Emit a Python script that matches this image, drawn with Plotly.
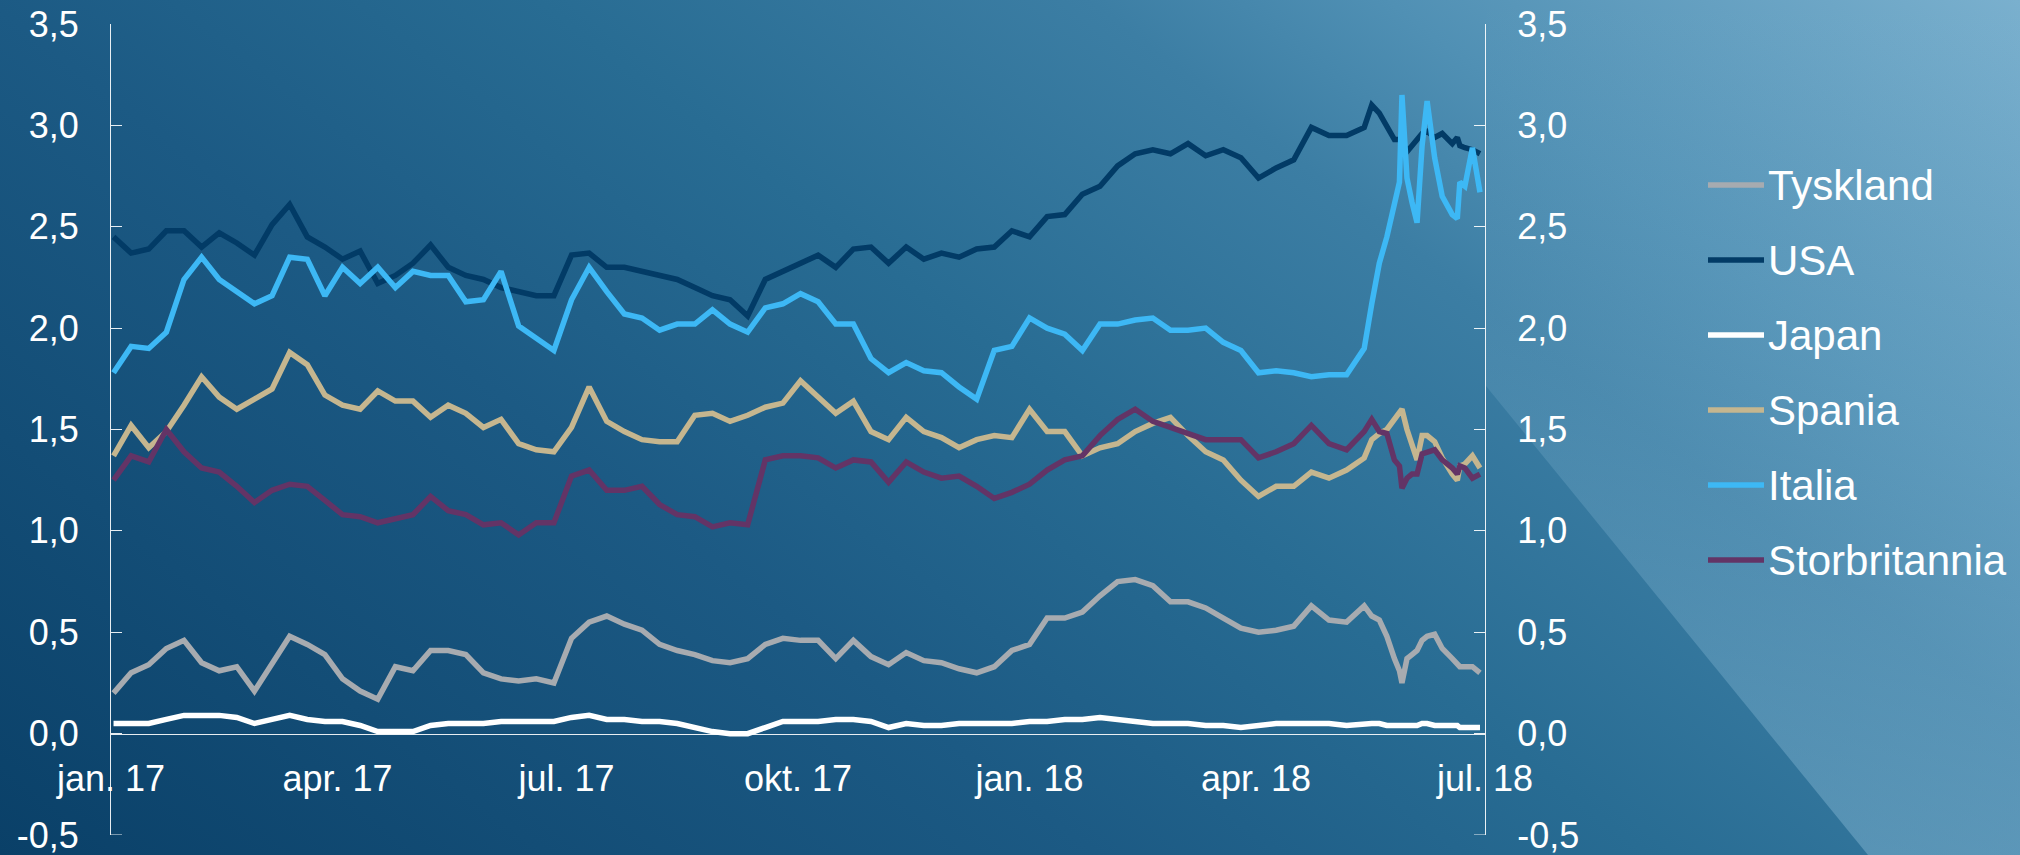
import base64
import pandas as pd
import plotly.graph_objects as go

# ---------------- data ----------------
weekly_dates = list(pd.date_range("2017-01-02", "2018-05-14", freq="7D").strftime("%Y-%m-%d"))
tail_dates = ["2018-05-17", "2018-05-20", "2018-05-23", "2018-05-26", "2018-05-28", "2018-05-29",
              "2018-05-31", "2018-06-02", "2018-06-04", "2018-06-06", "2018-06-08", "2018-06-11",
              "2018-06-14", "2018-06-18", "2018-06-20", "2018-06-21", "2018-06-23", "2018-06-26",
              "2018-06-29"]
dates = weekly_dates + tail_dates

tyskland = [0.20, 0.30, 0.34, 0.42, 0.46, 0.35, 0.31, 0.33, 0.21, 0.35, 0.48, 0.44, 0.39, 0.27, 0.21, 0.17,
            0.33, 0.31, 0.41, 0.41, 0.39, 0.30, 0.27, 0.26, 0.27, 0.25, 0.47, 0.55, 0.58, 0.54, 0.51, 0.44,
            0.41, 0.39, 0.36, 0.35, 0.37, 0.44, 0.47, 0.46, 0.46, 0.37, 0.46, 0.38, 0.34, 0.40, 0.36, 0.35,
            0.32, 0.30, 0.33, 0.41, 0.44, 0.57, 0.57, 0.60, 0.68, 0.75, 0.76, 0.73, 0.65, 0.65, 0.62, 0.57,
            0.52, 0.50, 0.51, 0.53, 0.63, 0.56, 0.55, 0.63,
            0.58, 0.56, 0.48, 0.37, 0.31, 0.25, 0.37, 0.39, 0.41, 0.46, 0.48, 0.49, 0.42, 0.37, 0.34, 0.33,
            0.33, 0.33, 0.30]
usa = [2.45, 2.37, 2.39, 2.48, 2.48, 2.40, 2.47, 2.42, 2.36, 2.51, 2.61, 2.45, 2.40, 2.34, 2.38, 2.22,
       2.26, 2.32, 2.41, 2.30, 2.26, 2.24, 2.20, 2.18, 2.16, 2.16, 2.36, 2.37, 2.30, 2.30, 2.28, 2.26,
       2.24, 2.20, 2.16, 2.14, 2.06, 2.24, 2.28, 2.32, 2.36, 2.30, 2.39, 2.40, 2.32, 2.40, 2.34, 2.37,
       2.35, 2.39, 2.40, 2.48, 2.45, 2.55, 2.56, 2.66, 2.70, 2.80, 2.86, 2.88, 2.86, 2.91, 2.85, 2.88,
       2.84, 2.74, 2.79, 2.83, 2.99, 2.95, 2.95, 2.99,
       3.10, 3.06, 3.00, 2.93, 2.93, 2.92, 2.87, 2.90, 2.93, 2.96, 2.97, 2.94, 2.96, 2.91, 2.94, 2.90,
       2.89, 2.88, 2.86]
japan = [0.05, 0.05, 0.05, 0.07, 0.09, 0.09, 0.09, 0.08, 0.05, 0.07, 0.09, 0.07, 0.06, 0.06, 0.04, 0.01,
         0.01, 0.01, 0.04, 0.05, 0.05, 0.05, 0.06, 0.06, 0.06, 0.06, 0.08, 0.09, 0.07, 0.07, 0.06, 0.06,
         0.05, 0.03, 0.01, 0.00, 0.00, 0.03, 0.06, 0.06, 0.06, 0.07, 0.07, 0.06, 0.03, 0.05, 0.04, 0.04,
         0.05, 0.05, 0.05, 0.05, 0.06, 0.06, 0.07, 0.07, 0.08, 0.07, 0.06, 0.05, 0.05, 0.05, 0.04, 0.04,
         0.03, 0.04, 0.05, 0.05, 0.05, 0.05, 0.04, 0.05,
         0.05, 0.05, 0.04, 0.04, 0.04, 0.04, 0.04, 0.04, 0.04, 0.05, 0.05, 0.04, 0.04, 0.04, 0.04, 0.03,
         0.03, 0.03, 0.03]
spania = [1.37, 1.52, 1.41, 1.49, 1.62, 1.76, 1.66, 1.60, 1.65, 1.70, 1.88, 1.82, 1.67, 1.62, 1.60, 1.69,
          1.64, 1.64, 1.56, 1.62, 1.58, 1.51, 1.55, 1.43, 1.40, 1.39, 1.51, 1.71, 1.54, 1.49, 1.45, 1.44,
          1.44, 1.57, 1.58, 1.54, 1.57, 1.61, 1.63, 1.74, 1.66, 1.58, 1.64, 1.49, 1.45, 1.56, 1.49, 1.46,
          1.41, 1.45, 1.47, 1.46, 1.60, 1.49, 1.49, 1.37, 1.41, 1.43, 1.49, 1.53, 1.56, 1.47, 1.39, 1.35,
          1.25, 1.17, 1.22, 1.22, 1.29, 1.26, 1.30, 1.36,
          1.45, 1.48, 1.50, 1.55, 1.58, 1.60, 1.50, 1.42, 1.35, 1.47, 1.47, 1.44, 1.36, 1.28, 1.25, 1.32,
          1.33, 1.37, 1.31]
italia = [1.78, 1.91, 1.90, 1.98, 2.24, 2.35, 2.24, 2.18, 2.12, 2.16, 2.35, 2.34, 2.16, 2.30, 2.22, 2.30,
          2.20, 2.28, 2.26, 2.26, 2.13, 2.14, 2.28, 2.01, 1.95, 1.89, 2.14, 2.30, 2.18, 2.07, 2.05, 1.99,
          2.02, 2.02, 2.09, 2.02, 1.98, 2.10, 2.12, 2.17, 2.13, 2.02, 2.02, 1.85, 1.78, 1.83, 1.79, 1.78,
          1.71, 1.65, 1.89, 1.91, 2.05, 2.00, 1.97, 1.89, 2.02, 2.02, 2.04, 2.05, 1.99, 1.99, 2.00, 1.93,
          1.89, 1.78, 1.79, 1.78, 1.76, 1.77, 1.77, 1.90,
          2.12, 2.32, 2.45, 2.62, 2.72, 3.15, 2.74, 2.62, 2.52, 2.90, 3.12, 2.84, 2.65, 2.56, 2.54, 2.72,
          2.70, 2.89, 2.67]
storbritannia = [1.25, 1.37, 1.34, 1.50, 1.39, 1.31, 1.29, 1.22, 1.14, 1.20, 1.23, 1.22, 1.15, 1.08, 1.07, 1.04,
                 1.06, 1.08, 1.17, 1.10, 1.08, 1.03, 1.04, 0.98, 1.04, 1.04, 1.27, 1.30, 1.20, 1.20, 1.22, 1.13,
                 1.08, 1.07, 1.02, 1.04, 1.03, 1.35, 1.37, 1.37, 1.36, 1.31, 1.35, 1.34, 1.24, 1.34, 1.29, 1.26,
                 1.27, 1.22, 1.16, 1.19, 1.23, 1.30, 1.35, 1.37, 1.47, 1.55, 1.60, 1.54, 1.51, 1.48, 1.45, 1.45,
                 1.45, 1.36, 1.39, 1.43, 1.52, 1.43, 1.40, 1.49,
                 1.55, 1.49, 1.48, 1.35, 1.32, 1.21, 1.26, 1.28, 1.28, 1.38, 1.39, 1.40, 1.35, 1.31, 1.28, 1.32,
                 1.31, 1.26, 1.28]

series_names = ["Tyskland", "USA", "Japan", "Spania", "Italia", "Storbritannia"]
series_values = [tyskland, usa, japan, spania, italia, storbritannia]
series_colors = ["#a7abb0", "#023b66", "#ffffff", "#c5b68f", "#3db8f5", "#633466"]

x_tickvals = ["2017-01-01", "2017-04-01", "2017-07-01", "2017-10-01", "2018-01-01", "2018-04-01", "2018-07-01"]
x_ticktext = ["jan. 17", "apr. 17", "jul. 17", "okt. 17", "jan. 18", "apr. 18", "jul. 18"]
y_tickvals = [-0.5, 0.0, 0.5, 1.0, 1.5, 2.0, 2.5, 3.0, 3.5]
y_ticktext = ["-0,5", "0,0", "0,5", "1,0", "1,5", "2,0", "2,5", "3,0", "3,5"]

# ---------------- layout geometry ----------------
W, H = 2020, 855
ML, MR, MT, MB = 111, 535, 24, 20
PW, PH = W - ML - MR, H - MT - MB
FONT = "Arial, Liberation Sans, sans-serif"
AXIS_COL = "rgba(255,255,255,0.9)"
TICKLEN = 11


def px_x(px):
    return (px - ML) / PW


def px_y(py):
    return (H - MB - py) / PH


# background (gradient + lighter triangle) as an inline svg image
bg_svg = f"""<svg xmlns="http://www.w3.org/2000/svg" width="{W}" height="{H}" viewBox="0 0 {W} {H}" preserveAspectRatio="none">
<defs>
<linearGradient id="g" gradientUnits="userSpaceOnUse" x1="0" y1="855" x2="1164" y2="-658">
<stop offset="0" stop-color="rgb(10,64,104)"/>
<stop offset="0.351" stop-color="rgb(28,90,132)"/>
<stop offset="0.527" stop-color="rgb(40,108,147)"/>
<stop offset="0.703" stop-color="rgb(60,126,164)"/>
<stop offset="0.798" stop-color="rgb(80,144,180)"/>
<stop offset="1" stop-color="rgb(122,176,206)"/>
</linearGradient>
<linearGradient id="o" gradientUnits="userSpaceOnUse" x1="0" y1="0" x2="0" y2="855">
<stop offset="0" stop-color="rgb(160,205,230)" stop-opacity="0"/>
<stop offset="0.46" stop-color="rgb(160,205,230)" stop-opacity="0.16"/>
<stop offset="1" stop-color="rgb(160,205,230)" stop-opacity="0.36"/>
</linearGradient>
</defs>
<rect x="0" y="0" width="{W}" height="{H}" fill="url(#g)"/>
<polygon points="1486,0 1486,386 1868,855 2020,855 2020,0" fill="url(#o)"/>
</svg>"""
bg_src = "data:image/svg+xml;base64," + base64.b64encode(bg_svg.encode()).decode()

fig = go.Figure()
for name, vals, col in zip(series_names, series_values, series_colors):
    fig.add_trace(go.Scatter(x=dates, y=vals, name=name, mode="lines",
                             line=dict(color=col, width=5.5), showlegend=False, hoverinfo="x+y+name"))
# invisible helper so the right-hand axis is drawn
fig.add_trace(go.Scatter(x=[x_tickvals[0]], y=[y_tickvals[1]], yaxis="y2", mode="markers",
                         marker=dict(opacity=0), showlegend=False, hoverinfo="skip"))

# manual legend
shapes = []
annotations = []
for k, (name, col) in enumerate(zip(series_names, series_colors)):
    yy = 185 + 75 * k
    shapes.append(dict(type="line", xref="paper", yref="paper",
                       x0=px_x(1708), x1=px_x(1764), y0=px_y(yy), y1=px_y(yy),
                       line=dict(color=col, width=5.5)))
    annotations.append(dict(xref="paper", yref="paper", x=px_x(1766), y=px_y(yy),
                            xanchor="left", yanchor="middle", text=name, showarrow=False,
                            font=dict(family=FONT, size=42, color="white")))

# bottom-end ticks (at the axis minimum) on both value axes
for xa, xb in [(0, TICKLEN / PW), (1 - TICKLEN / PW, 1)]:
    shapes.append(dict(type="line", xref="paper", yref="y", x0=xa, x1=xb,
                       y0=y_tickvals[0], y1=y_tickvals[0], line=dict(color=AXIS_COL, width=1)))

axis_common = dict(range=[-0.5, 3.5], tickvals=y_tickvals, ticktext=y_ticktext,
                   showgrid=False, zeroline=False, showline=True, linecolor=AXIS_COL,
                   linewidth=1, ticks="inside", ticklen=TICKLEN, tickwidth=1, tickcolor=AXIS_COL,
                   tickfont=dict(family=FONT, size=36, color="white"), ticklabelstandoff=24,
                   ticklabeloverflow="allow")

fig.update_layout(
    width=W, height=H,
    margin=dict(l=ML, r=MR, t=MT, b=MB, autoexpand=False),
    paper_bgcolor="rgb(30,90,130)",
    plot_bgcolor="rgba(0,0,0,0)",
    showlegend=False,
    xaxis=dict(type="date", range=["2017-01-01", "2018-07-01"], tickvals=x_tickvals, ticktext=x_ticktext,
               anchor="free", position=0.125, showgrid=False, zeroline=False, showline=True,
               linecolor=AXIS_COL, linewidth=1, ticks="",
               tickfont=dict(family=FONT, size=36, color="white"), ticklabelstandoff=13,
               ticklabeloverflow="allow"),
    yaxis=dict(**axis_common, anchor="x", side="left"),
    yaxis2=dict(**axis_common, anchor="x", side="right", overlaying="y"),
    shapes=shapes,
    annotations=annotations,
    images=[dict(source=bg_src, xref="paper", yref="paper", x=-ML / PW, y=1 + MT / PH,
                 sizex=W / PW, sizey=H / PH, xanchor="left", yanchor="top",
                 sizing="stretch", layer="below")],
)

fig.write_html("out.html", config={"displayModeBar": False},
               post_script="document.body.style.margin='0';document.body.style.overflow='hidden';")
